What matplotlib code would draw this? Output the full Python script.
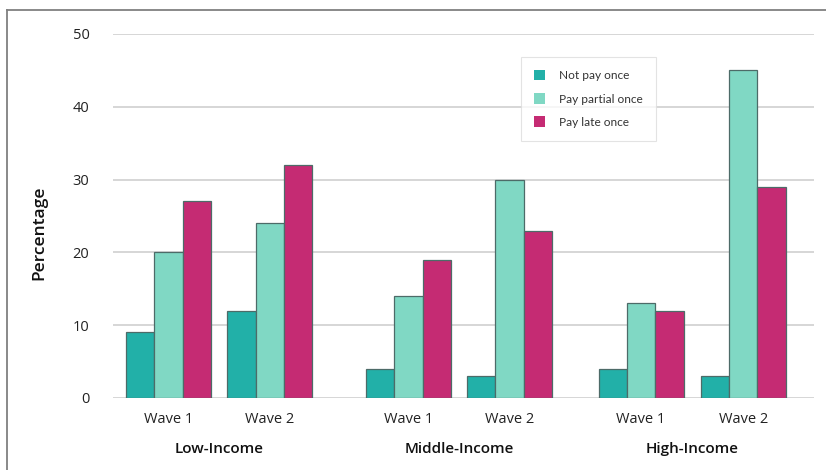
import matplotlib.pyplot as plt
from matplotlib.lines import Line2D
import numpy as np

plt.rcParams["font.family"] = ["Open Sans", "DejaVu Sans"]

groups = ["Low-Income", "Middle-Income", "High-Income"]
waves = ["Wave 1", "Wave 2"]
series = ["Not pay once", "Pay partial once", "Pay late once"]

# values per (group, wave): Low W1, Low W2, Mid W1, Mid W2, High W1, High W2
not_pay = [9, 12, 4, 3, 4, 3]
pay_partial = [20, 24, 14, 30, 13, 45]
pay_late = [27, 32, 19, 23, 12, 29]

colors = ["#22b0a8", "#80d8c4", "#c52b73"]

# wave positions, with a wider gap between income groups
pos = np.array([0.0, 1.0, 2.37, 3.37, 4.67, 5.68])
width = 0.28

fig = plt.figure(figsize=(8.26, 4.70), dpi=100)
ax = fig.add_axes([0.1368, 0.1532, 0.8487, 0.7745])

for i, (vals, col, name) in enumerate(zip([not_pay, pay_partial, pay_late], colors, series)):
    ax.bar(pos + (i - 1) * width, vals, width, color=col, edgecolor="#4d6b68",
           linewidth=0.9, label=name, zorder=3)

ax.set_ylim(0, 50)
ax.set_xlim(-0.55, 6.38)
ax.set_yticks(range(0, 51, 10))
ax.yaxis.grid(True, color="#d3d3d3", linewidth=1.3, zorder=0)
for s in ax.spines.values():
    s.set_visible(False)
ax.tick_params(axis="both", length=0, labelsize=10.5, colors="#222222")
ax.tick_params(axis="y", pad=17)
ax.tick_params(axis="x", pad=10)
ax.set_xticks(pos)
ax.set_xticklabels(waves * len(groups))

for g, name in enumerate(groups):
    xc = (pos[2 * g] + pos[2 * g + 1]) / 2
    ax.text(xc, -0.14, name, transform=ax.get_xaxis_transform(), ha="center",
            va="center", fontsize=11, fontweight="semibold", color="#111111")

fig.text(0.048, 0.505, "Percentage", rotation=90, ha="center", va="center",
         fontsize=12.5, fontweight="semibold", color="#111111")

leg = ax.legend(loc="upper left", bbox_to_anchor=(0.582, 0.937), fontsize=8.6,
                frameon=True, fancybox=False, edgecolor="#dddddd",
                handlelength=0.95, handleheight=0.95, handletextpad=1.1,
                labelspacing=1.0, borderpad=1.1, borderaxespad=0)
leg.get_frame().set_linewidth(0.8)
for h in leg.legend_handles:
    h.set_edgecolor("none")
for t in leg.get_texts():
    t.set_color("#333333")
    t.set_family(["Lato", "DejaVu Sans"])

# thin frame along the top and left of the figure
fig.add_artist(Line2D([6.5 / 826, 1], [1 - 9.5 / 470] * 2, transform=fig.transFigure,
                      color="#808080", linewidth=1.3))
fig.add_artist(Line2D([6.5 / 826] * 2, [0, 1 - 9.5 / 470], transform=fig.transFigure,
                      color="#808080", linewidth=1.3))

fig.savefig("out.png", dpi=100)
